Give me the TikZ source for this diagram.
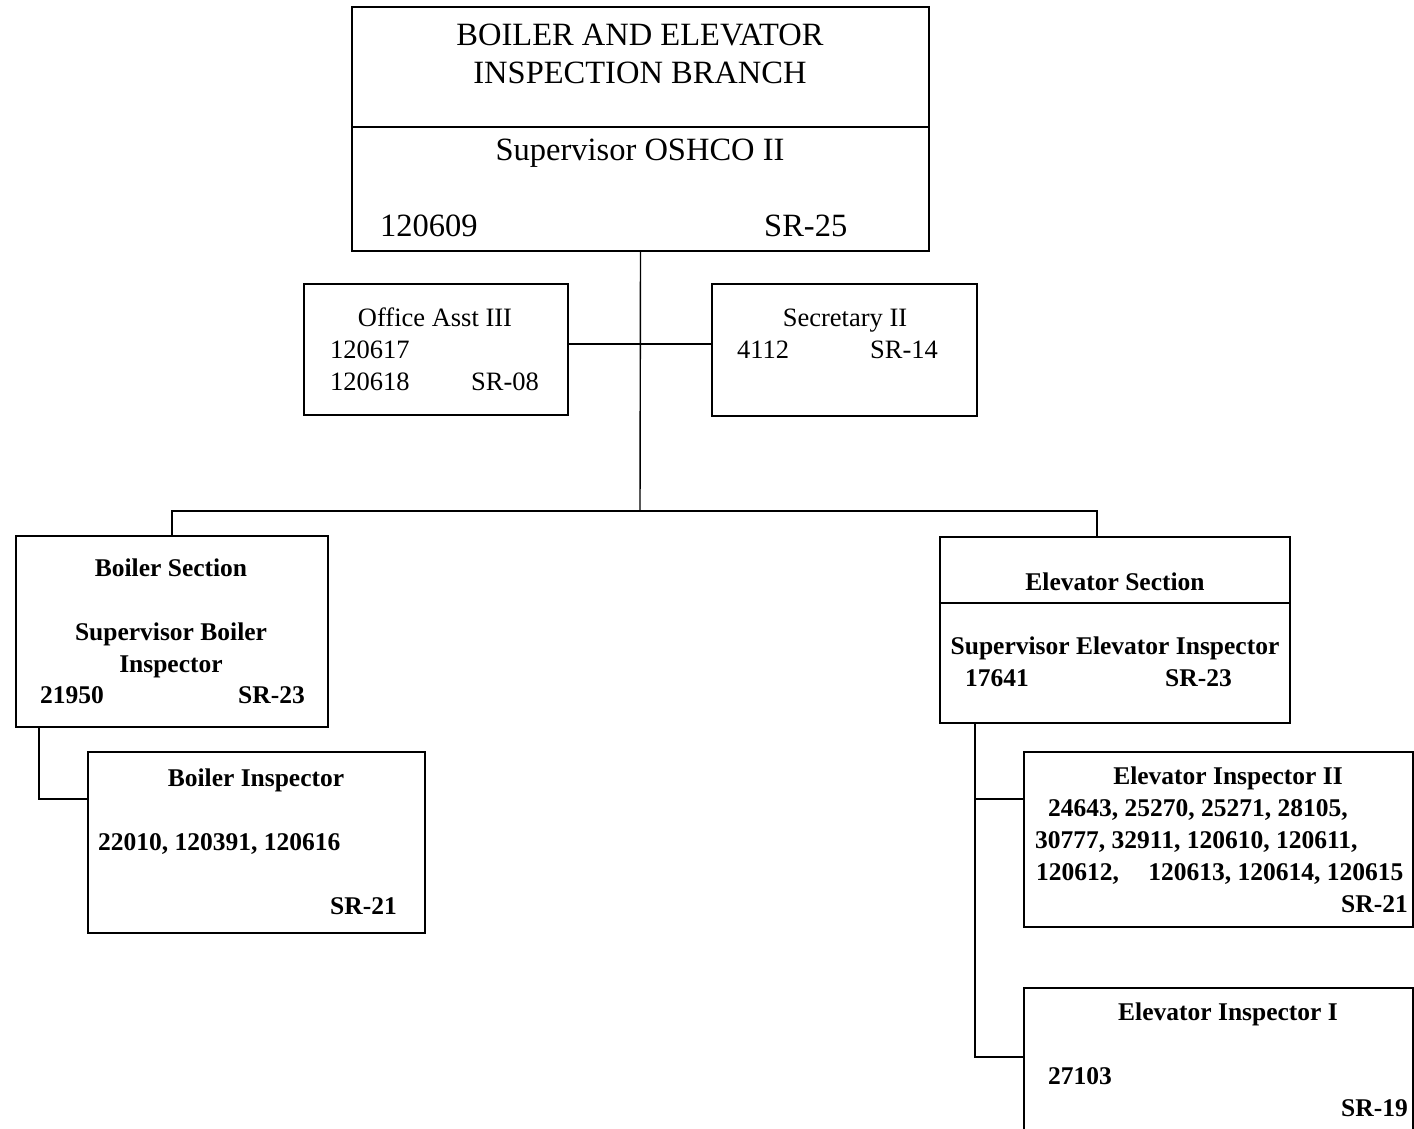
\documentclass[tikz,border=0pt]{standalone}
\usepackage{fontspec}
\setmainfont{Liberation Serif}
\usepackage{tikz}

\tikzset{
  box/.style={draw, line width=2.2pt, inner sep=0pt},
  link/.style={line width=1.4pt},
  bigtxt/.style={font=\fontsize{32.5}{38}\selectfont, inner sep=0pt},
  midtxt/.style={font=\fontsize{26.5}{31}\selectfont, inner sep=0pt},
  lowtxt/.style={font=\fontsize{25.5}{30}\selectfont\bfseries, inner sep=0pt}
}

\begin{document}
\begin{tikzpicture}[x=1pt,y=-1pt]
			\useasboundingbox (0,0) rectangle (1414,1128);
			% branch head
			\node[box, minimum width=577pt, minimum height=244pt] (branch) at (640.5,129) {};
			\draw[line width=1.4pt] (branch.west |- 0,127) -- (branch.east |- 0,127);
			\node[bigtxt, anchor=base] (bname1) at (640,45) {BOILER AND ELEVATOR};
			\node[bigtxt, anchor=base] (bname2) at (640,83) {INSPECTION BRANCH};
			\node[bigtxt, anchor=base] (bsup) at (640,160) {Supervisor OSHCO II};
			\node[bigtxt, anchor=base west] (bnum) at (380,236) {120609};
			\node[bigtxt, anchor=base west] (bsr) at (764,236) {SR-25};
			% staff
			\node[box, minimum width=264pt, minimum height=131pt] (office) at (436,349.5) {};
			\node[midtxt, anchor=base] (offname) at (435,326) {Office Asst III};
			\node[midtxt, anchor=base west] (offnum1) at (330,358) {120617};
			\node[midtxt, anchor=base west] (offnum2) at (330,390) {120618};
			\node[midtxt, anchor=base west] (offsr) at (471,390) {SR-08};
			\node[box, minimum width=265pt, minimum height=132pt] (secr) at (844.5,350) {};
			\node[midtxt, anchor=base] (secname) at (845,326) {Secretary II};
			\node[midtxt, anchor=base west] (secnum) at (737,358) {4112};
			\node[midtxt, anchor=base west] (secsr) at (870,358) {SR-14};
			% sections
			\node[box, minimum width=312pt, minimum height=191pt] (bsec) at (172,631.5) {};
			\node[lowtxt, anchor=base] (bsecname) at (171,576) {Boiler Section};
			\node[lowtxt, anchor=base] (bsecsup1) at (171,640) {Supervisor Boiler};
			\node[lowtxt, anchor=base] (bsecsup2) at (171,672) {Inspector};
			\node[lowtxt, anchor=base west] (bsecnum) at (40,703) {21950};
			\node[lowtxt, anchor=base east] (bsecsr) at (305,703) {SR-23};
			\node[box, minimum width=350pt, minimum height=186pt] (esec) at (1115,630) {};
			\draw[line width=1.4pt] (esec.west |- 0,603) -- (esec.east |- 0,603);
			\node[lowtxt, anchor=base] (esecname) at (1115,590) {Elevator Section};
			\node[lowtxt, anchor=base] (esecsup) at (1115,654) {Supervisor Elevator Inspector};
			\node[lowtxt, anchor=base west] (esecnum) at (965,686) {17641};
			\node[lowtxt, anchor=base west] (esecsr) at (1165,686) {SR-23};
			% inspectors
			\node[box, minimum width=337pt, minimum height=181pt] (binsp) at (256.5,842.5) {};
			\node[lowtxt, anchor=base] (binspname) at (256,786) {Boiler Inspector};
			\node[lowtxt, anchor=base west] (binspnum) at (98,850) {22010, 120391, 120616};
			\node[lowtxt, anchor=base east] (binspsr) at (397,914) {SR-21};
			\node[box, minimum width=389pt, minimum height=175pt] (einsp2) at (1218.5,839.5) {};
			\node[lowtxt, anchor=base] (einsp2name) at (1228,784) {Elevator Inspector II};
			\node[lowtxt, anchor=base west] (einsp2a) at (1048,816) {24643, 25270, 25271, 28105,};
			\node[lowtxt, anchor=base west] (einsp2b) at (1035,848) {30777, 32911, 120610, 120611,};
			\node[lowtxt, anchor=base west] (einsp2c) at (1036,880) {120612,\hspace{0.9em} 120613, 120614, 120615};
			\node[lowtxt, anchor=base east] (einsp2sr) at (1408,912) {SR-21};
			\node[box, minimum width=389pt, minimum height=160pt] (einsp1) at (1218.5,1068) {};
			\node[lowtxt, anchor=base] (einsp1name) at (1228,1020) {Elevator Inspector I};
			\node[lowtxt, anchor=base west] (einsp1num) at (1048,1084) {27103};
			\node[lowtxt, anchor=base east] (einsp1sr) at (1408,1116) {SR-19};
			% connectors
			\coordinate (hub) at (640,511);
			\draw[link] (branch.south) -- (hub);
			\draw[link] (office.east |- 0,344) -- (secr.west |- 0,344);
			\draw[link] (bsec.north) |- (hub) -| ([xshift=-18pt]esec.north);
			\draw[link] ([xshift=24pt]bsec.south west) |- ([yshift=-48pt]binsp.north west);
			\draw[link] ([xshift=36pt]esec.south west) |- ([yshift=-48pt]einsp2.north west);
			\draw[link] ([xshift=36pt]esec.south west) |- ([yshift=-70pt]einsp1.north west);
\end{tikzpicture}
\end{document}
